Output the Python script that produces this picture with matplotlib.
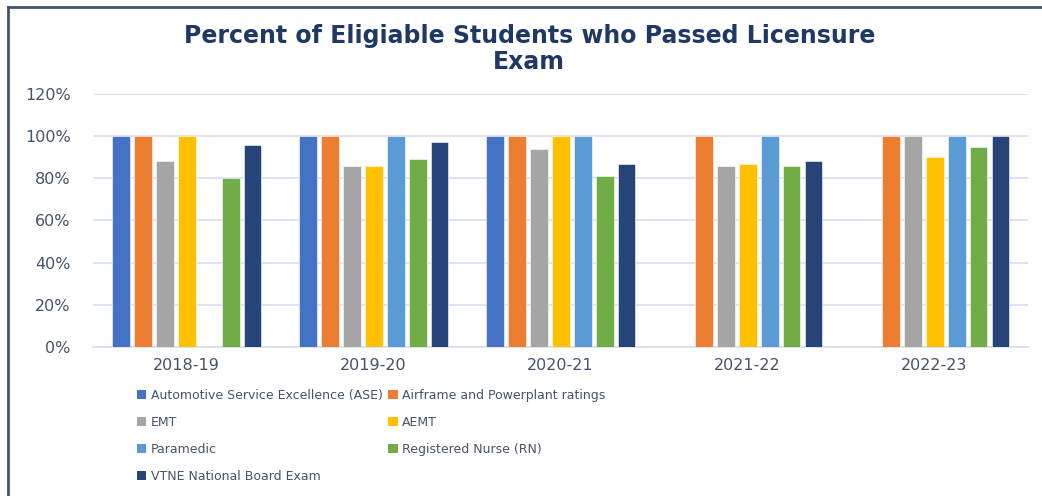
import numpy as np
import matplotlib.pyplot as plt
from matplotlib.patches import Patch
from matplotlib.lines import Line2D

years = ['2018-19', '2019-20', '2020-21', '2021-22', '2022-23']

series_names = [
    'Automotive Service Excellence (ASE)',
    'Airframe and Powerplant ratings',
    'EMT',
    'AEMT',
    'Paramedic',
    'Registered Nurse (RN)',
    'VTNE National Board Exam',
]

# percent passed, nan = no data that year
ase = [100, 100, 100, np.nan, np.nan]
airframe = [100, 100, 100, 100, 100]
emt = [88, 86, 94, 86, 100]
aemt = [100, 86, 100, 87, 90]
paramedic = [np.nan, 100, 100, 100, 100]
rn = [80, 89, 81, 86, 95]
vtne = [96, 97, 87, 88, 100]

colors = ['#4472C4', '#ED7D31', '#A5A5A5', '#FFC000', '#5B9BD5', '#70AD47', '#264478']

all_series = [ase, airframe, emt, aemt, paramedic, rn, vtne]

fig = plt.figure(figsize=(10.42, 4.96), dpi=100)
ax = fig.add_axes([0.0893, 0.3004, 0.8973, 0.5101])

x = np.arange(len(years))
step = 0.1176
width = 0.096
for j, (vals, c) in enumerate(zip(all_series, colors)):
    ax.bar(x + (j - 3) * step, np.array(vals, dtype=float) / 100.0, width=width,
           color=c, edgecolor='white', linewidth=0.4, zorder=3)

ax.set_xlim(-0.5, len(years) - 0.5)
ax.set_ylim(0, 1.2)
ax.set_yticks(np.arange(0, 1.21, 0.2))
ax.set_yticklabels([f'{int(round(v * 100))}%' for v in np.arange(0, 1.21, 0.2)])
ax.set_xticks(x)
ax.set_xticklabels(years)

grid_c = '#D9DCF2'
ax.grid(axis='y', color=grid_c, linewidth=1.2, zorder=0)
for s in ['top', 'right', 'left']:
    ax.spines[s].set_visible(False)
ax.spines['bottom'].set_color(grid_c)
ax.spines['bottom'].set_linewidth(1.2)
ax.tick_params(axis='both', length=0, colors='#44546A')
ax.tick_params(axis='y', labelsize=11.5, pad=16)
ax.tick_params(axis='x', labelsize=11.5, pad=8)

fig.text(0.508, 0.902, 'Percent of Eligiable Students who Passed Licensure\nExam',
         ha='center', va='center', fontsize=17, fontweight='bold',
         color='#1F3864', linespacing=1.1)

# legend, excel fills row-wise so reorder for matplotlib column fill
order = [0, 2, 4, 6, 1, 3, 5]
handles = [Patch(facecolor=colors[k], edgecolor='none') for k in order]
labels = [series_names[k] for k in order]
fig.legend(handles, labels, ncol=2, loc='upper left',
           bbox_to_anchor=(0.1315, 0.216), frameon=False,
           fontsize=9, labelcolor='#44546A', handlelength=0.75,
           handleheight=0.75, handletextpad=0.35, columnspacing=0.45,
           labelspacing=1.12, borderaxespad=0, borderpad=0)

# chart frame (left and top edges visible in the screenshot)
fig.add_artist(Line2D([0.0072, 0.0072], [0, 0.986], transform=fig.transFigure,
                      color='#44546A', linewidth=2))
fig.add_artist(Line2D([0.0072, 1.0], [0.986, 0.986], transform=fig.transFigure,
                      color='#44546A', linewidth=2))

fig.savefig('out.png', dpi=100)
